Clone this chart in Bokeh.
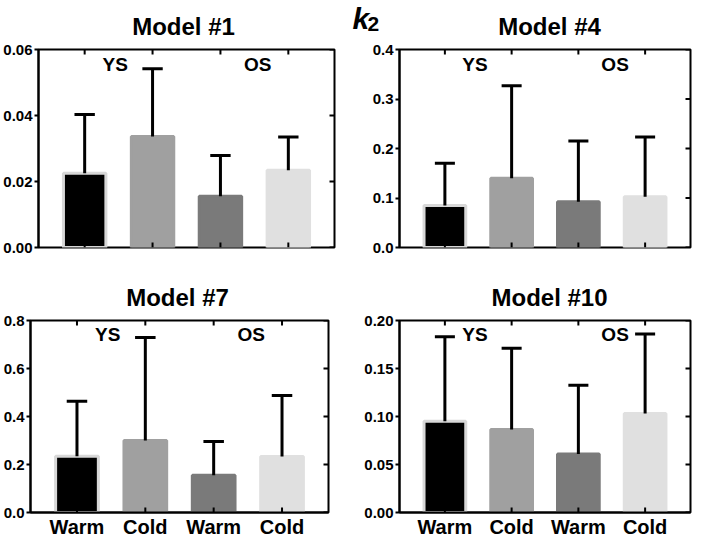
import math
from bokeh.plotting import figure
from bokeh.layouts import column, row
from bokeh.models import Range1d, FixedTicker, ColumnDataSource
from bokeh.core.properties import value
from bokeh.embed import file_html
from bokeh.resources import INLINE

# ---------------- data ----------------
conditions = ["Warm", "Cold", "Warm", "Cold"]
groups = ["YS", "OS"]
models = ["Model #1", "Model #4", "Model #7", "Model #10"]
positions = [1, 2, 3, 4]

model1_mean = [0.0225, 0.0336, 0.0155, 0.0234]
model1_upper = [0.0403, 0.0542, 0.0279, 0.0335]
model4_mean = [0.085, 0.140, 0.0926, 0.1025]
model4_upper = [0.170, 0.327, 0.215, 0.223]
model7_mean = [0.234, 0.300, 0.155, 0.233]
model7_upper = [0.464, 0.729, 0.296, 0.488]
model10_mean = [0.095, 0.0865, 0.061, 0.103]
model10_upper = [0.183, 0.171, 0.1326, 0.186]

y_max = [0.06, 0.4, 0.8, 0.20]
y_ticks = [[0, 0.02, 0.04, 0.06],
           [0, 0.1, 0.2, 0.3, 0.4],
           [0, 0.2, 0.4, 0.6, 0.8],
           [0, 0.05, 0.1, 0.15, 0.2]]
y_tick_labels = [["0.00", "0.02", "0.04", "0.06"],
                 ["0.0", "0.1", "0.2", "0.3", "0.4"],
                 ["0.0", "0.2", "0.4", "0.6", "0.8"],
                 ["0.00", "0.05", "0.10", "0.15", "0.20"]]

overall_title = "k"
overall_subscript = "2"

bar_fill = ["#000000", "#a0a0a0", "#7a7a7a", "#e0e0e0"]
bar_edge = ["#d8d8d8", "#a0a0a0", "#7a7a7a", "#e0e0e0"]

FONT = value("Liberation Sans")
X0, X1 = 0.32, 4.68


def make_header(idx, w, h, cx, cy):
    hf = figure(width=w, height=h, x_range=Range1d(0, w), y_range=Range1d(0, h),
                output_backend="svg", toolbar_location=None, min_border=0,
                frame_align=False)
    hf.xaxis.visible = False
    hf.yaxis.visible = False
    hf.xgrid.visible = False
    hf.ygrid.visible = False
    hf.outline_line_color = None
    hf.text(x=[cx], y=[cy], text=[models[idx]], text_font=FONT,
            text_font_style="bold", text_font_size="24px", text_align="center",
            text_baseline="middle", text_color="black")
    return hf


def make_panel(idx, means, uppers, show_cat, w, h, bl, br, bt, bb):
    p = figure(width=w, height=h, x_range=Range1d(X0, X1),
               y_range=Range1d(0, y_max[idx]), output_backend="svg",
               toolbar_location=None, min_border_left=bl, min_border_right=br,
               min_border_top=bt, min_border_bottom=bb, frame_align=False)
    p.xgrid.visible = False
    p.ygrid.visible = False
    p.outline_line_color = "black"
    p.outline_line_width = 2
    p.outline_line_alpha = 1.0

    src = ColumnDataSource(dict(x=positions, top=means, up=uppers,
                                fill=bar_fill, edge=bar_edge,
                                cl=[v - 0.15 for v in positions],
                                cr=[v + 0.15 for v in positions]))
    p.vbar(x="x", top="top", bottom=0, width=0.625, fill_color="fill",
           line_color="edge", line_width=3, source=src)
    p.segment(x0="x", y0="top", x1="x", y1="up", line_color="black",
              line_width=3, source=src)
    p.segment(x0="cl", y0="up", x1="cr", y1="up", line_color="black",
              line_width=3, source=src)

    p.text(x=[1.45, 3.55], y=[y_max[idx] * 0.925] * 2, text=groups,
           text_font=FONT, text_font_style="bold", text_font_size="19px",
           text_align="center", text_baseline="middle", text_color="black")

    # inward mirror ticks: top, bottom and right edges
    n = len(positions)
    p.ray(x=positions, y=[y_max[idx]] * n, length=5, length_units="screen",
          angle=-math.pi / 2, line_color="black", line_width=2)
    p.ray(x=positions, y=[0] * n, length=5, length_units="screen",
          angle=math.pi / 2, line_color="black", line_width=2)
    m = len(y_ticks[idx])
    p.ray(x=[X1] * m, y=y_ticks[idx], length=5, length_units="screen",
          angle=math.pi, line_color="black", line_width=2)

    # left axis
    ya = p.yaxis[0]
    ya.ticker = FixedTicker(ticks=y_ticks[idx])
    ya.major_label_overrides = {t: l for t, l in zip(y_ticks[idx], y_tick_labels[idx])}
    ya.major_tick_out = 4
    ya.major_tick_in = 0
    ya.minor_tick_line_color = None
    ya.major_label_standoff = 2
    ya.major_label_text_color = "black"
    ya.major_label_text_font = "Liberation Sans"
    ya.major_label_text_font_style = "bold"
    ya.major_label_text_font_size = "15px"
    ya.axis_line_width = 2
    ya.axis_line_color = "black"
    ya.major_tick_line_width = 2
    ya.major_tick_line_color = "black"

    # bottom axis
    xa = p.xaxis[0]
    if show_cat:
        xa.ticker = FixedTicker(ticks=positions)
        xa.major_label_overrides = {t: l for t, l in zip(positions, conditions)}
        xa.major_tick_out = 0
        xa.major_tick_in = 0
        xa.minor_tick_line_color = None
        xa.axis_line_width = 2
        xa.axis_line_color = "black"
        xa.major_label_text_color = "black"
        xa.major_label_text_font = "Liberation Sans"
        xa.major_label_text_font_style = "bold"
        xa.major_label_text_font_size = "20px"
        xa.major_label_standoff = 3
    else:
        xa.visible = False
    return p


W1, W2 = 346, 347
H_HEAD = 40

h1 = make_header(0, W1, H_HEAD, 183, 14)
h2 = make_header(1, W2, H_HEAD, 203, 14)
h3 = make_header(2, W1, H_HEAD, 177, 14)
h4 = make_header(3, W2, H_HEAD, 203, 14)

# overall "k2" heading inside the header strip of the upper-right panel
h2.text(x=[6], y=[22.5], text=[overall_title], text_font=FONT,
        text_font_style="bold italic", text_font_size="30px",
        text_baseline="middle", text_color="black")
h2.text(x=[21], y=[16.5], text=[overall_subscript], text_font=FONT,
        text_font_style="bold", text_font_size="21px",
        text_baseline="middle", text_color="black")

p1 = make_panel(0, model1_mean, model1_upper, False, W1, 231, 33, 12, 9, 24)
p2 = make_panel(1, model4_mean, model4_upper, False, W2, 231, 53, 3, 9, 24)
p3 = make_panel(2, model7_mean, model7_upper, True, W1, 229, 25, 18, 9, 23)
p4 = make_panel(3, model10_mean, model10_upper, True, W2, 229, 53, 3, 9, 23)

layout = column(row(column(h1, p1), column(h2, p2)),
                row(column(h3, p3), column(h4, p4)))

with open("out.html", "w") as f:
    f.write(file_html(layout, INLINE))
